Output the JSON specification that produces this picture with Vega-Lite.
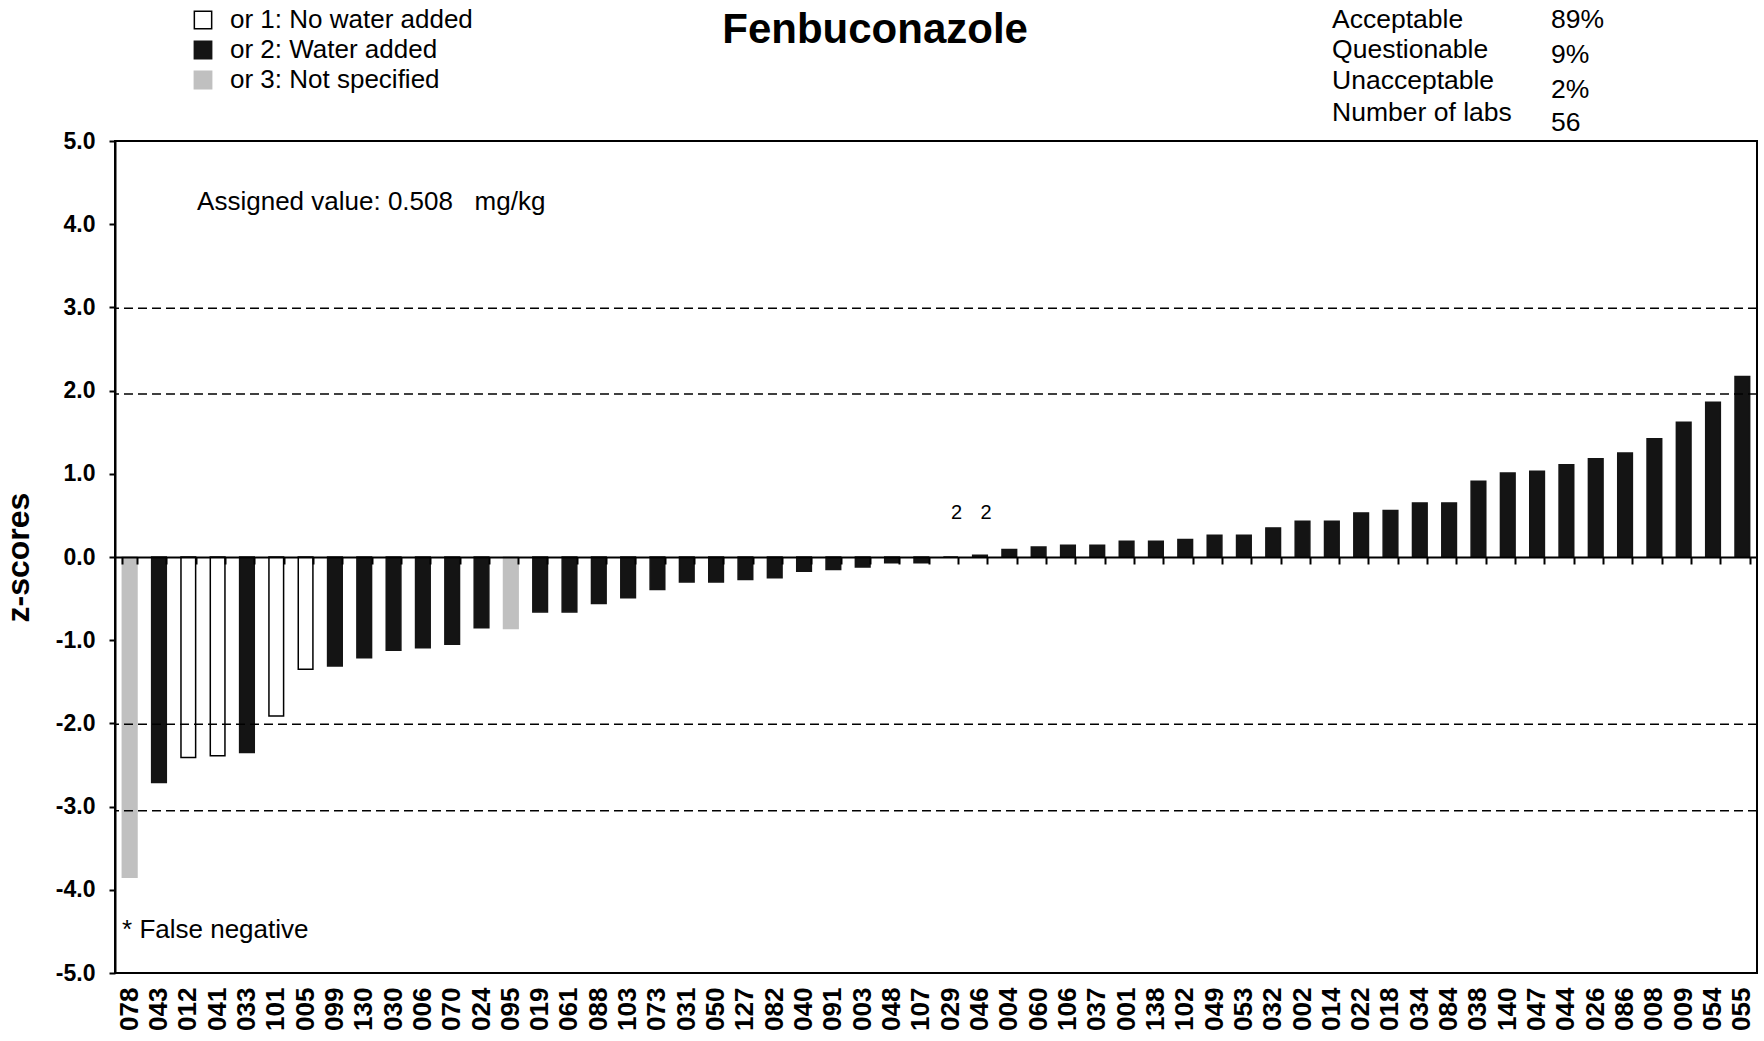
{
  "$schema": "https://vega.github.io/schema/vega-lite/v6.json",
  "width": 1642,
  "height": 832,
  "autosize": {"type": "none"},
  "padding": {"left": 115, "top": 141, "right": 7, "bottom": 68},
  "background": "white",
  "config": {
    "font": "Liberation Sans",
    "view": {"stroke": "#000000", "strokeWidth": 2},
    "axis": {"grid": false, "labelColor": "#000000", "titleColor": "#000000", "domainColor": "#000000", "tickColor": "#000000"},
    "text": {"font": "Liberation Sans", "color": "#000000"}
  },
  "datasets": {
    "results": [
      {"lab": "078", "z": -3.85, "water": "or 3: Not specified"},
      {"lab": "043", "z": -2.71, "water": "or 2: Water added"},
      {"lab": "012", "z": -2.41, "water": "or 1: No water added"},
      {"lab": "041", "z": -2.39, "water": "or 1: No water added"},
      {"lab": "033", "z": -2.35, "water": "or 2: Water added"},
      {"lab": "101", "z": -1.91, "water": "or 1: No water added"},
      {"lab": "005", "z": -1.35, "water": "or 1: No water added"},
      {"lab": "099", "z": -1.31, "water": "or 2: Water added"},
      {"lab": "130", "z": -1.21, "water": "or 2: Water added"},
      {"lab": "030", "z": -1.12, "water": "or 2: Water added"},
      {"lab": "006", "z": -1.09, "water": "or 2: Water added"},
      {"lab": "070", "z": -1.05, "water": "or 2: Water added"},
      {"lab": "024", "z": -0.85, "water": "or 2: Water added"},
      {"lab": "095", "z": -0.86, "water": "or 3: Not specified"},
      {"lab": "019", "z": -0.66, "water": "or 2: Water added"},
      {"lab": "061", "z": -0.66, "water": "or 2: Water added"},
      {"lab": "088", "z": -0.56, "water": "or 2: Water added"},
      {"lab": "103", "z": -0.49, "water": "or 2: Water added"},
      {"lab": "073", "z": -0.39, "water": "or 2: Water added"},
      {"lab": "031", "z": -0.3, "water": "or 2: Water added"},
      {"lab": "050", "z": -0.3, "water": "or 2: Water added"},
      {"lab": "127", "z": -0.27, "water": "or 2: Water added"},
      {"lab": "082", "z": -0.25, "water": "or 2: Water added"},
      {"lab": "040", "z": -0.17, "water": "or 2: Water added"},
      {"lab": "091", "z": -0.15, "water": "or 2: Water added"},
      {"lab": "003", "z": -0.12, "water": "or 2: Water added"},
      {"lab": "048", "z": -0.07, "water": "or 2: Water added"},
      {"lab": "107", "z": -0.07, "water": "or 2: Water added"},
      {"lab": "029", "z": 0.0, "water": "or 2: Water added", "note": "2"},
      {"lab": "046", "z": 0.02, "water": "or 2: Water added", "note": "2"},
      {"lab": "004", "z": 0.09, "water": "or 2: Water added"},
      {"lab": "060", "z": 0.12, "water": "or 2: Water added"},
      {"lab": "106", "z": 0.14, "water": "or 2: Water added"},
      {"lab": "037", "z": 0.14, "water": "or 2: Water added"},
      {"lab": "001", "z": 0.19, "water": "or 2: Water added"},
      {"lab": "138", "z": 0.19, "water": "or 2: Water added"},
      {"lab": "102", "z": 0.21, "water": "or 2: Water added"},
      {"lab": "049", "z": 0.26, "water": "or 2: Water added"},
      {"lab": "053", "z": 0.26, "water": "or 2: Water added"},
      {"lab": "032", "z": 0.35, "water": "or 2: Water added"},
      {"lab": "002", "z": 0.43, "water": "or 2: Water added"},
      {"lab": "014", "z": 0.43, "water": "or 2: Water added"},
      {"lab": "022", "z": 0.53, "water": "or 2: Water added"},
      {"lab": "018", "z": 0.56, "water": "or 2: Water added"},
      {"lab": "034", "z": 0.65, "water": "or 2: Water added"},
      {"lab": "084", "z": 0.65, "water": "or 2: Water added"},
      {"lab": "038", "z": 0.91, "water": "or 2: Water added"},
      {"lab": "140", "z": 1.01, "water": "or 2: Water added"},
      {"lab": "047", "z": 1.03, "water": "or 2: Water added"},
      {"lab": "044", "z": 1.11, "water": "or 2: Water added"},
      {"lab": "026", "z": 1.18, "water": "or 2: Water added"},
      {"lab": "086", "z": 1.25, "water": "or 2: Water added"},
      {"lab": "008", "z": 1.42, "water": "or 2: Water added"},
      {"lab": "009", "z": 1.62, "water": "or 2: Water added"},
      {"lab": "054", "z": 1.86, "water": "or 2: Water added"},
      {"lab": "055", "z": 2.17, "water": "or 2: Water added"}
    ],
    "limits": [
      {"limit": 2.99},
      {"limit": 1.96},
      {"limit": -2.01},
      {"limit": -3.05}
    ],
    "stats": [
      {"measure": "Acceptable", "share": "89%"},
      {"measure": "Questionable", "share": "9%"},
      {"measure": "Unacceptable", "share": "2%"},
      {"measure": "Number of labs", "share": "56"}
    ],
    "notes": [
      {"heading": "Fenbuconazole", "assigned": "Assigned value: 0.508\u00a0\u00a0 mg/kg", "footnote": "* False negative"}
    ]
  },
  "layer": [
    {
      "data": {"name": "results"},
      "layer": [
        {
          "mark": {"type": "bar", "strokeWidth": 1.5},
          "encoding": {
            "x": {
              "field": "lab", "type": "nominal", "sort": null,
              "scale": {"paddingInner": 0.5, "paddingOuter": 0.25},
              "axis": {
                "orient": "bottom", "title": null, "ticks": false, "domain": false,
                "labelAngle": -90, "labelFontSize": 26, "labelFontWeight": "bold",
                "labelPadding": 14, "labelOverlap": false
              }
            },
            "y": {
              "field": "z", "type": "quantitative",
              "scale": {"domain": [-5, 5], "nice": false, "zero": false},
              "axis": {
                "title": "z-scores", "values": [-5, -4, -3, -2, -1, 0, 1, 2, 3, 4, 5],
                "labelExpr": "replace(format(datum.value, '.1f'), '\u2212', '-')",
                "labelFontSize": 23, "labelFontWeight": "bold", "labelPadding": 14,
                "tickSize": 6, "tickWidth": 2, "domainWidth": 2,
                "titleFontSize": 32, "titleFontWeight": "bold", "titlePadding": 20
              }
            },
            "fill": {
              "field": "water", "type": "nominal",
              "scale": {
                "domain": ["or 1: No water added", "or 2: Water added", "or 3: Not specified"],
                "range": ["#ffffff", "#141414", "#c0c0c0"]
              },
              "legend": {
                "title": null, "orient": "none", "legendX": 75, "legendY": -134,
                "symbolType": "square", "symbolSize": 300, "symbolStrokeWidth": 1.5,
                "labelFontSize": 26, "labelColor": "#000000", "labelOffset": 14,
                "labelLimit": 0, "rowPadding": 4, "padding": 0
              }
            },
            "stroke": {
              "field": "water", "type": "nominal",
              "scale": {
                "domain": ["or 1: No water added", "or 2: Water added", "or 3: Not specified"],
                "range": ["#000000", "#141414", "#c0c0c0"]
              }
            }
          }
        },
        {
          "transform": [{"filter": "isValid(datum.note)"}],
          "mark": {"type": "text", "align": "center", "baseline": "middle", "fontSize": 20, "dx": 6},
          "encoding": {
            "x": {
              "field": "lab", "type": "nominal", "sort": null,
              "axis": {
                "orient": "bottom", "offset": -416, "title": null, "labels": false,
                "domain": true, "domainWidth": 2, "ticks": true, "tickBand": "extent",
                "tickSize": 7, "tickWidth": 2, "zindex": 1
              }
            },
            "y": {"datum": 0.53, "type": "quantitative"},
            "text": {"field": "note"}
          }
        }
      ],
      "resolve": {"axis": {"x": "independent"}}
    },
    {
      "data": {"name": "limits"},
      "mark": {"type": "rule", "color": "#000000", "strokeWidth": 1.6, "strokeDash": [9, 5]},
      "encoding": {
        "y": {"field": "limit", "type": "quantitative"}
      }
    },
    {
      "layer": [
        {
          "data": {"name": "notes"},
          "mark": {"type": "text", "align": "center", "baseline": "middle", "fontSize": 42, "fontWeight": "bold"},
          "encoding": {
            "x": {"datum": 0.4629, "type": "quantitative", "scale": {"domain": [0, 1]}, "axis": null},
            "y": {"datum": 6.33, "type": "quantitative"},
            "text": {"field": "heading"}
          }
        },
        {
          "data": {"name": "notes"},
          "mark": {"type": "text", "align": "left", "baseline": "middle", "fontSize": 26},
          "encoding": {
            "x": {"datum": 0.05, "type": "quantitative", "scale": {"domain": [0, 1]}, "axis": null},
            "y": {"datum": 4.27, "type": "quantitative"},
            "text": {"field": "assigned"}
          }
        },
        {
          "data": {"name": "notes"},
          "mark": {"type": "text", "align": "left", "baseline": "middle", "fontSize": 26},
          "encoding": {
            "x": {"datum": 0.0043, "type": "quantitative", "scale": {"domain": [0, 1]}, "axis": null},
            "y": {"datum": -4.48, "type": "quantitative"},
            "text": {"field": "footnote"}
          }
        },
        {
          "data": {"name": "stats"},
          "transform": [{"filter": "datum.measure === 'Acceptable'"}],
          "layer": [
            {
              "mark": {"type": "text", "align": "left", "baseline": "middle", "fontSize": 26.5},
              "encoding": {
                "x": {"datum": 0.7412, "type": "quantitative", "scale": {"domain": [0, 1]}, "axis": null},
                "y": {"datum": 6.45, "type": "quantitative"},
                "text": {"field": "measure"}
              }
            },
            {
              "mark": {"type": "text", "align": "left", "baseline": "middle", "fontSize": 26.5},
              "encoding": {
                "x": {"datum": 0.8745, "type": "quantitative", "scale": {"domain": [0, 1]}, "axis": null},
                "y": {"datum": 6.45, "type": "quantitative"},
                "text": {"field": "share"}
              }
            }
          ]
        },
        {
          "data": {"name": "stats"},
          "transform": [{"filter": "datum.measure === 'Questionable'"}],
          "layer": [
            {
              "mark": {"type": "text", "align": "left", "baseline": "middle", "fontSize": 26.5},
              "encoding": {
                "x": {"datum": 0.7412, "type": "quantitative", "scale": {"domain": [0, 1]}, "axis": null},
                "y": {"datum": 6.09, "type": "quantitative"},
                "text": {"field": "measure"}
              }
            },
            {
              "mark": {"type": "text", "align": "left", "baseline": "middle", "fontSize": 26.5},
              "encoding": {
                "x": {"datum": 0.8745, "type": "quantitative", "scale": {"domain": [0, 1]}, "axis": null},
                "y": {"datum": 6.03, "type": "quantitative"},
                "text": {"field": "share"}
              }
            }
          ]
        },
        {
          "data": {"name": "stats"},
          "transform": [{"filter": "datum.measure === 'Unacceptable'"}],
          "layer": [
            {
              "mark": {"type": "text", "align": "left", "baseline": "middle", "fontSize": 26.5},
              "encoding": {
                "x": {"datum": 0.7412, "type": "quantitative", "scale": {"domain": [0, 1]}, "axis": null},
                "y": {"datum": 5.72, "type": "quantitative"},
                "text": {"field": "measure"}
              }
            },
            {
              "mark": {"type": "text", "align": "left", "baseline": "middle", "fontSize": 26.5},
              "encoding": {
                "x": {"datum": 0.8745, "type": "quantitative", "scale": {"domain": [0, 1]}, "axis": null},
                "y": {"datum": 5.61, "type": "quantitative"},
                "text": {"field": "share"}
              }
            }
          ]
        },
        {
          "data": {"name": "stats"},
          "transform": [{"filter": "datum.measure === 'Number of labs'"}],
          "layer": [
            {
              "mark": {"type": "text", "align": "left", "baseline": "middle", "fontSize": 26.5},
              "encoding": {
                "x": {"datum": 0.7412, "type": "quantitative", "scale": {"domain": [0, 1]}, "axis": null},
                "y": {"datum": 5.34, "type": "quantitative"},
                "text": {"field": "measure"}
              }
            },
            {
              "mark": {"type": "text", "align": "left", "baseline": "middle", "fontSize": 26.5},
              "encoding": {
                "x": {"datum": 0.8745, "type": "quantitative", "scale": {"domain": [0, 1]}, "axis": null},
                "y": {"datum": 5.22, "type": "quantitative"},
                "text": {"field": "share"}
              }
            }
          ]
        }
      ]
    }
  ],
  "resolve": {"scale": {"x": "independent"}}
}
